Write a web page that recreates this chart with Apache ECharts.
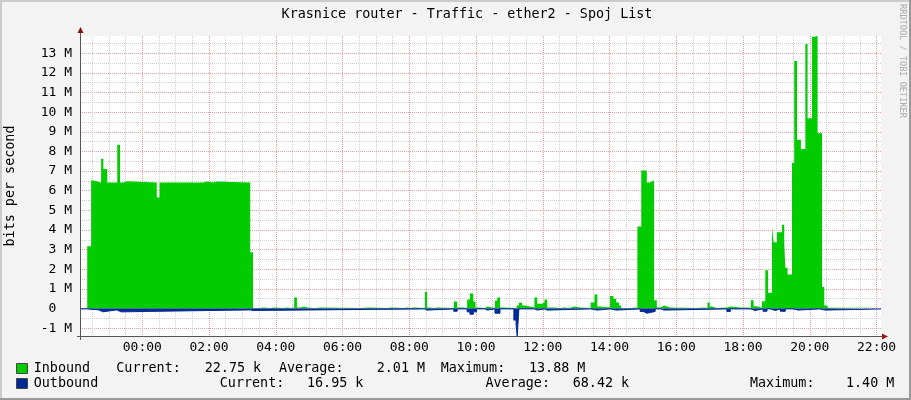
<!DOCTYPE html>
<html><head><meta charset="utf-8">
<script src="https://cdn.jsdelivr.net/npm/echarts@6/dist/echarts.min.js"></script>
<style>html,body{margin:0;padding:0;background:#F3F3F3}#c{width:911px;height:400px}</style>
</head><body><div id="c"></div>
<script>
const chartTitle = 'Krasnice router - Traffic - ether2 - Spoj List';
const yAxisTitle = 'bits per second';
const watermark = 'RRDTOOL / TOBI OETIKER';
// time = minutes relative to 00:00 (negative = previous evening); value = Mbit/s, each value holds until the next time
const inTimes = [-112,-99,-92,-88,-74,-70,-63,-45,-40,-34,-27,26,31,110,116,128,134,194,199,
  211,217,229,237,255,260,267,273,278,284,291,296,309,321,391,409,440,447,470,476,483,488,
  508,512,517,524,530,560,566,577,584,589,595,599,604,616,620,634,638,643,648,
  673,677,683,688,705,710,718,723,728,742,751,760,765,771,776,787,806,813,818,823,
  841,847,852,857,861,877,886,890,897,907,912,920,925,932,938,949,997,1010,1016,1020,1024,
  1033,1051,1057,1075,1094,1099,1105,1114,1120,1125,1132,1135,1141,1150,1154,1156,1160,
  1168,1172,1177,1184,1192,1196,1204,1208,1214,1222,1226,1232,1328];
const inValues = [0.00,3.17,6.52,6.42,7.63,7.10,6.42,8.34,6.42,6.48,6.42,5.66,6.42,6.47,6.42,6.47,6.42,2.86,0.02,
  0.05,0.02,0.05,0.02,0.05,0.02,0.05,0.56,0.05,0.10,0.05,0.02,0.05,0.02,0.05,0.02,0.05,0.02,0.05,0.02,0.05,0.02,
  0.86,0.05,0.02,0.05,0.02,0.36,0.05,0.02,0.46,0.76,0.36,0.05,0.02,0.10,0.02,0.40,0.56,0.05,0.02,
  0.15,0.29,0.15,0.05,0.56,0.24,0.29,0.46,0.05,0.02,0.05,0.02,0.05,0.10,0.05,0.02,0.30,0.71,0.10,0.05,
  0.64,0.50,0.30,0.15,0.02,0.05,0.02,4.18,7.03,6.42,6.52,0.42,0.05,0.15,0.05,0.02,0.05,0.02,0.30,0.10,0.02,
  0.05,0.10,0.05,0.04,0.42,0.12,0.04,0.37,1.95,0.80,4.18,3.37,3.88,4.27,3.36,2.08,1.73,
  7.41,12.61,8.59,8.13,13.47,9.69,13.84,13.88,8.93,1.10,0.15,0.04,0.04];
const outTimes = [-112,-99,-78,-71,-46,-38,194,199,508,512,560,566,584,589,595,601,616,620,634,643,
  668,672,674,677,705,710,723,728,806,818,841,852,895,901,907,922,932,938,1051,1057,
  1094,1101,1116,1123,1129,1138,1147,1156,1170,1179,1218,1228,1328];
const outValues = [0.02,0.07,0.17,0.07,0.17,0.07,0.10,0.02,0.08,0.02,0.14,0.02,0.17,0.29,0.17,0.02,0.08,0.02,0.24,0.02,
  0.59,0.85,1.40,0.02,0.08,0.02,0.08,0.02,0.08,0.02,0.08,0.02,0.15,0.24,0.15,0.02,0.08,0.02,0.15,0.02,
  0.10,0.02,0.14,0.02,0.10,0.02,0.14,0.02,0.08,0.02,0.08,0.02,0.02];
const xMajorTicks = [0,120,240,360,480,600,720,840,960,1080,1200,1320];
const xMinorTicks = [-90,-60,-30,30,60,90,150,180,210,270,300,330,390,420,450,510,540,570,630,660,690,
  750,780,810,870,900,930,990,1020,1050,1110,1140,1170,1230,1260,1290];
const yMajorTicks = [-1,0,1,2,3,4,5,6,7,8,9,10,11,12,13];
const yMinorTicks = [-0.5,0.5,1.5,2.5,3.5,4.5,5.5,6.5,7.5,8.5,9.5,10.5,11.5,12.5,13.5];
const xRange = [-112, 1328];
const yRange = [-1.40, 13.88];
const seriesNames = ['Inbound', 'Outbound'];
const seriesColors = ['#00CC00', '#002A97'];
const inStats = ['22.75 k', '2.01 M', '13.88 M'];
const outStats = ['16.95 k', '68.42 k', '1.40 M'];

const mono = 'DejaVu Sans Mono';
const fmtX = v => { const h = ((Math.round(v / 60) % 24) + 24) % 24; return (h < 10 ? '0' : '') + h + ':00'; };
const fmtY = v => v === 0 ? '0  ' : (v + ' M');
const gridLine = c => ({ show: true, lineStyle: { color: c, type: [1, 1], width: 1 } });

const chart = echarts.init(document.getElementById('c'), null, { renderer: 'canvas' });
const txt = (x, y, s, extra) => Object.assign({ type: 'text', x: x, y: y, z: 100,
  style: Object.assign({ text: s, font: '13.4px "' + mono + '"', fill: '#000', textVerticalAlign: 'middle' }, extra || {}) });
const graphics = [
  { type: 'line', z: 100, shape: { x1: 1, y1: 0, x2: 1, y2: 400 }, style: { stroke: '#CBCBCB', lineWidth: 2 } },
  { type: 'line', z: 100, shape: { x1: 0, y1: 1, x2: 911, y2: 1 }, style: { stroke: '#CBCBCB', lineWidth: 2 } },
  { type: 'line', z: 100, shape: { x1: 910, y1: 0, x2: 910, y2: 400 }, style: { stroke: '#999999', lineWidth: 2 } },
  { type: 'line', z: 100, shape: { x1: 0, y1: 399, x2: 911, y2: 399 }, style: { stroke: '#999999', lineWidth: 2 } },
  { type: 'line', z: 100, shape: { x1: 80.5, y1: 340, x2: 80.5, y2: 32 }, style: { stroke: '#555555', lineWidth: 1 } },
  { type: 'line', z: 100, shape: { x1: 77, y1: 336.5, x2: 883, y2: 336.5 }, style: { stroke: '#555555', lineWidth: 1 } },
  { type: 'polygon', z: 101, shape: { points: [[80.5, 27], [77.5, 33], [83.5, 33]] }, style: { fill: '#7F1010' } },
  { type: 'polygon', z: 101, shape: { points: [[888, 336.5], [882, 333.5], [882, 339.5]] }, style: { fill: '#9F1818' } },
  txt(467, 15, chartTitle, { textAlign: 'center' }),
  { type: 'text', x: 11, y: 186, rotation: Math.PI / 2, z: 100,
    style: { text: yAxisTitle, font: '13.4px "' + mono + '"', fill: '#000', textAlign: 'center', textVerticalAlign: 'middle' } },
  { type: 'text', x: 902, y: 61, rotation: -Math.PI / 2, z: 100,
    style: { text: watermark, font: '8.6px "' + mono + '"', fill: '#AAAAAA', textAlign: 'center', textVerticalAlign: 'middle' } },
  { type: 'rect', z: 100, shape: { x: 16.5, y: 363.5, width: 11, height: 10 }, style: { fill: seriesColors[0], stroke: '#444', lineWidth: 1 } },
  { type: 'rect', z: 100, shape: { x: 16.5, y: 378.5, width: 11, height: 10 }, style: { fill: seriesColors[1], stroke: '#444', lineWidth: 1 } },
  txt(33.7, 369, seriesNames[0]), txt(116.3, 369, 'Current:'), txt(204.7, 369, inStats[0]),
  txt(279, 369, 'Average:'), txt(376.7, 369, inStats[1]), txt(440.7, 369, 'Maximum:'), txt(529, 369, inStats[2]),
  txt(33.7, 384, seriesNames[1]), txt(219.8, 384, 'Current:'), txt(307, 384, outStats[0]),
  txt(485.5, 384, 'Average:'), txt(572.7, 384, outStats[1]), txt(750, 384, 'Maximum:'), txt(846, 384, outStats[2])
];

const option = {
  backgroundColor: '#F3F3F3',
  animation: false,
  grid: { left: 80, right: 30, top: 36, bottom: 64, show: true, backgroundColor: '#FFFFFF', borderWidth: 0 },
  xAxis: [
    { type: 'value', min: xRange[0], max: xRange[1], axisLine: { show: false },
      axisTick: { show: false, customValues: xMinorTicks }, axisLabel: { show: false, customValues: xMinorTicks },
      splitLine: gridLine('#CFCFCF') },
    { type: 'value', min: xRange[0], max: xRange[1], position: 'bottom', axisLine: { show: false },
      axisTick: { show: false, customValues: xMajorTicks },
      axisLabel: { customValues: xMajorTicks, formatter: fmtX, fontFamily: mono, fontSize: 13, color: '#000', margin: 5 },
      splitLine: gridLine('#EE9E9E') }
  ],
  yAxis: [
    { type: 'value', min: yRange[0], max: yRange[1], axisLine: { show: false },
      axisTick: { show: false, customValues: yMinorTicks }, axisLabel: { show: false, customValues: yMinorTicks },
      splitLine: gridLine('#CFCFCF') },
    { type: 'value', min: yRange[0], max: yRange[1], position: 'left', axisLine: { show: false },
      axisTick: { show: false, customValues: yMajorTicks },
      axisLabel: { customValues: yMajorTicks, formatter: fmtY, fontFamily: mono, fontSize: 13, color: '#000', margin: 8 },
      splitLine: gridLine('#EE9E9E') }
  ],
  series: [
    { name: seriesNames[0], type: 'line', step: 'end', xAxisIndex: 0, yAxisIndex: 0, symbol: 'none',
      lineStyle: { width: 0 }, areaStyle: { color: seriesColors[0], opacity: 1 },
      data: inTimes.map((t, i) => [t, inValues[i]]) },
    { name: seriesNames[1], type: 'line', step: 'end', xAxisIndex: 0, yAxisIndex: 0, symbol: 'none',
      lineStyle: { width: 1, color: seriesColors[1] }, areaStyle: { color: seriesColors[1], opacity: 1 },
      data: outTimes.map((t, i) => [t, -outValues[i]]) }
  ],
  graphic: graphics
};
chart.setOption(option);
</script></body></html>
